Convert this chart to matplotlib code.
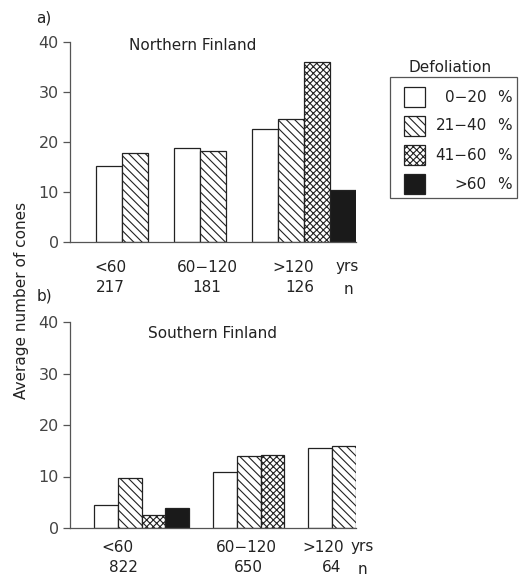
import numpy as np
import matplotlib.pyplot as plt
from matplotlib.patches import Rectangle

# Defoliation classes and bar styles
classes = ['0\u221220', '21\u221240', '41\u221260', '>60']
hatches = ['', '\\\\\\\\', 'xxxxx', '']
faces = ['white', 'white', 'white', '#1a1a1a']

# Stand age classes
ages = ['<60', '60\u2212120', '>120']

# a) Northern Finland, rows = age class, cols = defoliation class
north = [[15.3, 17.8, np.nan, np.nan],
         [18.8, 18.2, np.nan, np.nan],
         [22.6, 24.7, 36.1, 10.4]]
north_n = [217, 181, 126]

# b) Southern Finland
south = [[4.5, 9.7, 2.6, 3.9],
         [10.8, 14.0, 14.1, np.nan],
         [15.5, 15.9, np.nan, np.nan]]
south_n = [822, 650, 64]

ink = '#222222'
plt.rcParams['font.family'] = 'DejaVu Sans'
plt.rcParams['font.size'] = 10.5
plt.rcParams['hatch.linewidth'] = 0.8
plt.rcParams['hatch.color'] = ink

fig = plt.figure(figsize=(5.26, 5.81), dpi=100)
W, H = 526, 581


def fx(px):
    return px / W


def fy(py):
    return 1 - py / H


def draw_panel(ax, data):
    # bars of a group sit side by side, one empty slot between groups
    x = 1
    centers = []
    for row in data:
        start = x
        for k, v in enumerate(row):
            if np.isnan(v):
                continue
            ax.bar(x, v, width=1, align='edge', color=faces[k],
                   hatch=hatches[k], edgecolor=ink, linewidth=0.9)
            x += 1
        centers.append((start + x) / 2)
        x += 1
    ax.set_xlim(0, x - 1)
    ax.set_ylim(0, 40)
    ax.set_yticks([0, 10, 20, 30, 40])
    ax.set_xticks([])
    for s in ['top', 'right']:
        ax.spines[s].set_visible(False)
    for s in ['left', 'bottom']:
        ax.spines[s].set_color('#555555')
        ax.spines[s].set_linewidth(0.9)
    ax.tick_params(axis='y', length=5, width=0.9, color='#555555',
                   labelcolor='#444444', labelsize=11.5, pad=3)
    return centers


ax1 = fig.add_axes([fx(70), fy(242), fx(286), fy(42) - fy(242)])
draw_panel(ax1, north)
ax2 = fig.add_axes([fx(70), fy(528), fx(286), fy(322) - fy(528)])
draw_panel(ax2, south)

txt = dict(color=ink, fontsize=11)
fig.text(fx(36), fy(18), 'a)', ha='left', va='center', **txt)
fig.text(fx(193), fy(45), 'Northern Finland', ha='center', va='center', **txt)
fig.text(fx(37), fy(296), 'b)', ha='left', va='center', **txt)
fig.text(fx(213), fy(333), 'Southern Finland', ha='center', va='center', **txt)
fig.text(fx(22), fy(300), 'Average number of cones', rotation=90,
         ha='center', va='center', **txt)

# age class and sample size labels under the axes
top_age_x = [110, 207, 293]
top_n_x = [110, 207, 300]
for a, n, xa, xn in zip(ages, north_n, top_age_x, top_n_x):
    fig.text(fx(xa), fy(267), a, ha='center', va='center', **txt)
    fig.text(fx(xn), fy(288), str(n), ha='center', va='center', **txt)
fig.text(fx(347), fy(267), 'yrs', ha='center', va='center', **txt)
fig.text(fx(348), fy(289), 'n', ha='center', va='center', **txt)

bot_age_x = [117, 246, 323]
bot_n_x = [123, 248, 332]
for a, n, xa, xn in zip(ages, south_n, bot_age_x, bot_n_x):
    fig.text(fx(xa), fy(547), a, ha='center', va='center', **txt)
    fig.text(fx(xn), fy(568), str(n), ha='center', va='center', **txt)
fig.text(fx(362), fy(547), 'yrs', ha='center', va='center', **txt)
fig.text(fx(362), fy(569), 'n', ha='center', va='center', **txt)

# legend box
fig.text(fx(450), fy(67), 'Defoliation', ha='center', va='center', **txt)
fig.add_artist(Rectangle((fx(390), fy(198)), fx(127), fy(77) - fy(198),
                         transform=fig.transFigure, fill=False,
                         edgecolor='#555555', linewidth=0.9))
row_y = [97, 126, 155, 184]
for k, c in enumerate(classes):
    fig.add_artist(Rectangle((fx(404), fy(row_y[k] + 10)), fx(21), fy(row_y[k] - 10) - fy(row_y[k] + 10),
                             transform=fig.transFigure, facecolor=faces[k],
                             hatch=hatches[k], edgecolor=ink, linewidth=0.9))
    fig.text(fx(487), fy(row_y[k]), c, ha='right', va='center', **txt)
    fig.text(fx(512), fy(row_y[k]), '%', ha='right', va='center', **txt)

fig.savefig('out.png', dpi=100)
